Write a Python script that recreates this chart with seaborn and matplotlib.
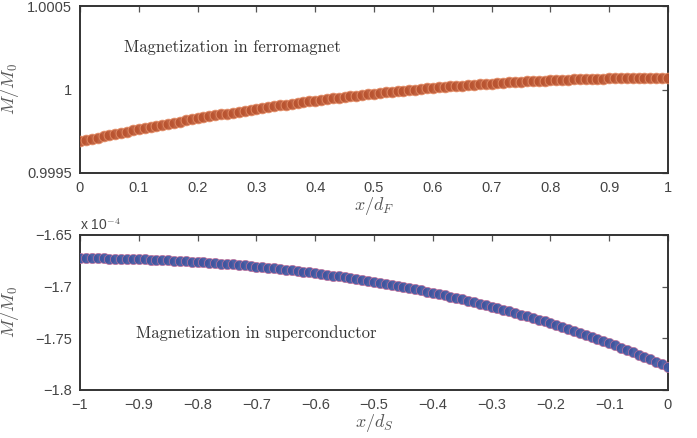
import numpy as np
import pandas as pd
import matplotlib
matplotlib.use("Agg")
import matplotlib.pyplot as plt
import seaborn as sns

# ---------------- data ----------------
x_ferro = [round(0.01 * i, 2) for i in range(101)]
m_ferro = [
    0.9996900, 0.9996976, 0.9997051, 0.9997125, 0.9997198, 0.9997271, 0.9997342, 0.9997413, 0.9997484, 0.9997553,
    0.9997622, 0.9997690, 0.9997757, 0.9997824, 0.9997890, 0.9997954, 0.9998019, 0.9998082, 0.9998145, 0.9998207,
    0.9998268, 0.9998328, 0.9998388, 0.9998447, 0.9998505, 0.9998562, 0.9998619, 0.9998675, 0.9998730, 0.9998784,
    0.9998838, 0.9998891, 0.9998943, 0.9998994, 0.9999045, 0.9999095, 0.9999144, 0.9999192, 0.9999239, 0.9999286,
    0.9999332, 0.9999377, 0.9999422, 0.9999465, 0.9999508, 0.9999550, 0.9999592, 0.9999633, 0.9999672, 0.9999712,
    0.9999750, 0.9999788, 0.9999824, 0.9999861, 0.9999896, 0.9999930, 0.9999964, 0.9999997, 1.0000030, 1.0000061,
    1.0000092, 1.0000122, 1.0000151, 1.0000180, 1.0000208, 1.0000234, 1.0000261, 1.0000286, 1.0000311, 1.0000335,
    1.0000358, 1.0000380, 1.0000402, 1.0000423, 1.0000443, 1.0000462, 1.0000481, 1.0000499, 1.0000516, 1.0000532,
    1.0000548, 1.0000563, 1.0000577, 1.0000590, 1.0000603, 1.0000614, 1.0000626, 1.0000636, 1.0000645, 1.0000654,
    1.0000662, 1.0000669, 1.0000676, 1.0000681, 1.0000686, 1.0000690, 1.0000694, 1.0000697, 1.0000698, 1.0000700,
    1.0000700,
]

x_super = [round(-1 + 0.01 * i, 2) for i in range(101)]
# values in units of 1e-4 (axis multiplier "x 10^-4")
m_super = [
    -1.6726, -1.6726, -1.6726, -1.6727, -1.6727, -1.6728, -1.6729, -1.6730, -1.6731, -1.6733,
    -1.6735, -1.6736, -1.6738, -1.6741, -1.6743, -1.6745, -1.6748, -1.6751, -1.6754, -1.6757,
    -1.6761, -1.6764, -1.6768, -1.6772, -1.6776, -1.6780, -1.6785, -1.6790, -1.6795, -1.6800,
    -1.6805, -1.6810, -1.6816, -1.6822, -1.6828, -1.6834, -1.6841, -1.6847, -1.6854, -1.6861,
    -1.6868, -1.6876, -1.6884, -1.6892, -1.6900, -1.6908, -1.6916, -1.6925, -1.6934, -1.6943,
    -1.6953, -1.6963, -1.6972, -1.6983, -1.6993, -1.7004, -1.7014, -1.7025, -1.7037, -1.7048,
    -1.7060, -1.7072, -1.7085, -1.7097, -1.7110, -1.7123, -1.7137, -1.7150, -1.7164, -1.7179,
    -1.7193, -1.7208, -1.7223, -1.7238, -1.7254, -1.7270, -1.7286, -1.7303, -1.7320, -1.7337,
    -1.7354, -1.7372, -1.7390, -1.7409, -1.7427, -1.7447, -1.7466, -1.7486, -1.7506, -1.7526,
    -1.7547, -1.7568, -1.7590, -1.7612, -1.7634, -1.7657, -1.7680, -1.7703, -1.7727, -1.7751,
    -1.7776,
]

xticks_top = [0, 0.1, 0.2, 0.3, 0.4, 0.5, 0.6, 0.7, 0.8, 0.9, 1]
xticklabels_top = ["0", "0.1", "0.2", "0.3", "0.4", "0.5", "0.6", "0.7", "0.8", "0.9", "1"]
yticks_top = [0.9995, 1.0, 1.0005]
yticklabels_top = ["0.9995", "1", "1.0005"]

xticks_bot = [-1, -0.9, -0.8, -0.7, -0.6, -0.5, -0.4, -0.3, -0.2, -0.1, 0]
xticklabels_bot = ["\u22121", "\u22120.9", "\u22120.8", "\u22120.7", "\u22120.6", "\u22120.5",
                   "\u22120.4", "\u22120.3", "\u22120.2", "\u22120.1", "0"]
yticks_bot = [-1.8, -1.75, -1.7, -1.65]
yticklabels_bot = ["\u22121.8", "\u22121.75", "\u22121.7", "\u22121.65"]

label_ferro = "Magnetization in ferromagnet"
label_super = "Magnetization in superconductor"

# ---------------- style ----------------
sns.set_theme(style="white")
plt.rcParams["font.family"] = ["Liberation Sans", "DejaVu Sans"]
plt.rcParams["mathtext.fontset"] = "cm"

fig = plt.figure(figsize=(6.97, 4.38), dpi=100)
ax1 = fig.add_axes([80 / 697, 1 - 173 / 438, 588 / 697, 167 / 438])
ax2 = fig.add_axes([80 / 697, 1 - 390 / 438, 588 / 697, 155 / 438])

df1 = pd.DataFrame({"x": x_ferro, "m": m_ferro})
df2 = pd.DataFrame({"x": x_super, "m": m_super})

sns.scatterplot(data=df1, x="x", y="m", ax=ax1, s=60, color="#b9532f",
                edgecolor="#e89068", linewidth=0.6, alpha=0.9, zorder=3, legend=False)
sns.scatterplot(data=df2, x="x", y="m", ax=ax2, s=55, color="#3d55a0",
                edgecolor="#c8709a", linewidth=0.5, alpha=0.92, zorder=3, legend=False)

tick_color = "#444444"
for ax in (ax1, ax2):
    for sp in ax.spines.values():
        sp.set_visible(True)
        sp.set_color("#333333")
        sp.set_linewidth(1.4)
    ax.tick_params(direction="in", top=True, right=True, length=4, width=0.9,
                   colors="#555555", labelcolor=tick_color, labelsize=10.5, pad=6)

ax1.set_xlim(0, 1)
ax1.set_ylim(0.9995, 1.0005)
ax1.set_xticks(xticks_top)
ax1.set_xticklabels(xticklabels_top)
ax1.set_yticks(yticks_top)
ax1.set_yticklabels(yticklabels_top)
ax1.set_xlabel(r"$x/d_F$", fontsize=13, color="#555555", labelpad=0)
ax1.set_ylabel(r"$M/M_0$", fontsize=13, color="#555555")
ax1.yaxis.set_label_coords(-0.1, 0.5)
ax1.text(0.075, 0.75, label_ferro, transform=ax1.transAxes, fontname="cmr10",
         fontsize=12, color="#333333", va="center", ha="left")

ax2.set_xlim(-1, 0)
ax2.set_ylim(-1.8, -1.65)
ax2.set_xticks(xticks_bot)
ax2.set_xticklabels(xticklabels_bot)
ax2.set_yticks(yticks_bot)
ax2.set_yticklabels(yticklabels_bot)
ax2.set_xlabel(r"$x/d_S$", fontsize=13, color="#555555", labelpad=0)
ax2.set_ylabel(r"$M/M_0$", fontsize=13, color="#555555")
ax2.yaxis.set_label_coords(-0.1, 0.5)
ax2.text(0.095, 0.37, label_super, transform=ax2.transAxes, fontname="cmr10",
         fontsize=12, color="#333333", va="center", ha="left")
ax2.text(0.0, 1.015, r"x 10$^{-4}$", transform=ax2.transAxes, fontsize=10,
         color=tick_color, ha="left", va="bottom")

fig.savefig("out.png", dpi=100)
